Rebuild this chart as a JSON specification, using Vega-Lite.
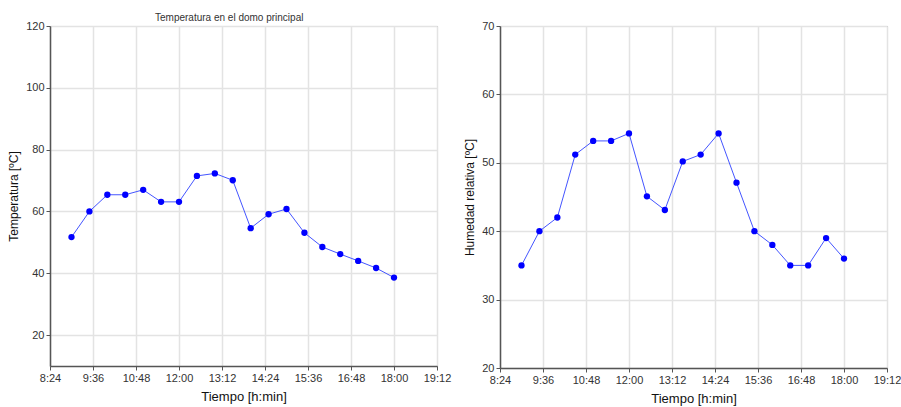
{
  "$schema": "https://vega.github.io/schema/vega-lite/v6.json",
  "padding": {"left": 7, "top": 12, "right": 0, "bottom": 0},
  "spacing": 11,
  "data": {"values": [
    {"hora": "2000-01-01T09:00:00", "temp": 51.7, "hum": 35.0},
    {"hora": "2000-01-01T09:30:00", "temp": 60.0, "hum": 40.0},
    {"hora": "2000-01-01T10:00:00", "temp": 65.4, "hum": 42.0},
    {"hora": "2000-01-01T10:30:00", "temp": 65.4, "hum": 51.2},
    {"hora": "2000-01-01T11:00:00", "temp": 67.0, "hum": 53.2},
    {"hora": "2000-01-01T11:30:00", "temp": 63.1, "hum": 53.2},
    {"hora": "2000-01-01T12:00:00", "temp": 63.1, "hum": 54.3},
    {"hora": "2000-01-01T12:30:00", "temp": 71.5, "hum": 45.1},
    {"hora": "2000-01-01T13:00:00", "temp": 72.3, "hum": 43.1},
    {"hora": "2000-01-01T13:30:00", "temp": 70.1, "hum": 50.2},
    {"hora": "2000-01-01T14:00:00", "temp": 54.6, "hum": 51.2},
    {"hora": "2000-01-01T14:30:00", "temp": 59.1, "hum": 54.3},
    {"hora": "2000-01-01T15:00:00", "temp": 60.8, "hum": 47.1},
    {"hora": "2000-01-01T15:30:00", "temp": 53.1, "hum": 40.0},
    {"hora": "2000-01-01T16:00:00", "temp": 48.5, "hum": 38.0},
    {"hora": "2000-01-01T16:30:00", "temp": 46.2, "hum": 35.0},
    {"hora": "2000-01-01T17:00:00", "temp": 44.0, "hum": 35.0},
    {"hora": "2000-01-01T17:30:00", "temp": 41.7, "hum": 39.0},
    {"hora": "2000-01-01T18:00:00", "temp": 38.6, "hum": 36.0}
  ]},
  "config": {
    "font": "Liberation Sans, sans-serif",
    "view": {"stroke": "#8c8c8c", "strokeWidth": 1},
    "axis": {
      "domainColor": "#555555", "domainWidth": 1.5,
      "tickColor": "#555555", "tickSize": 4,
      "labelFont": "Liberation Sans, sans-serif",
      "labelFontSize": 11, "labelColor": "#333333", "labelPadding": 2,
      "titleFont": "Liberation Sans, sans-serif",
      "titleFontSize": 12, "titleFontWeight": "normal", "titleColor": "#111111", "titlePadding": 5,
      "gridColor": "#e3e3e3", "gridWidth": 1.5
    },
    "axisX": {"titlePadding": 7, "titleFontSize": 13}
  },
  "hconcat": [
    {
      "title": {"text": "Temperatura en el domo principal", "fontSize": 10, "fontWeight": "normal", "color": "#333333", "anchor": "middle", "frame": "bounds", "offset": -3, "font": "Liberation Sans, sans-serif"},
      "width": 387,
      "height": 340,
      "encoding": {
        "x": {"field": "hora", "type": "temporal",
          "scale": {"domain": [{"year": 2000, "month": 1, "date": 1, "hours": 8, "minutes": 24}, {"year": 2000, "month": 1, "date": 1, "hours": 19, "minutes": 12}], "nice": false},
          "axis": {"title": "Tiempo [h:min]", "format": "%-H:%M", "labelFlush": false, "labelOverlap": false,
            "values": [
              {"year": 2000, "month": 1, "date": 1, "hours": 8, "minutes": 24},
              {"year": 2000, "month": 1, "date": 1, "hours": 9, "minutes": 36},
              {"year": 2000, "month": 1, "date": 1, "hours": 10, "minutes": 48},
              {"year": 2000, "month": 1, "date": 1, "hours": 12, "minutes": 0},
              {"year": 2000, "month": 1, "date": 1, "hours": 13, "minutes": 12},
              {"year": 2000, "month": 1, "date": 1, "hours": 14, "minutes": 24},
              {"year": 2000, "month": 1, "date": 1, "hours": 15, "minutes": 36},
              {"year": 2000, "month": 1, "date": 1, "hours": 16, "minutes": 48},
              {"year": 2000, "month": 1, "date": 1, "hours": 18, "minutes": 0},
              {"year": 2000, "month": 1, "date": 1, "hours": 19, "minutes": 12}
            ]}},
        "y": {"field": "temp", "type": "quantitative",
          "scale": {"domain": [10, 120], "nice": false, "zero": false},
          "axis": {"title": "Temperatura [ºC]", "values": [20, 40, 60, 80, 100, 120]}}
      },
      "layer": [
        {"mark": {"type": "line", "color": "#4455ff", "strokeWidth": 1}},
        {"mark": {"type": "point", "filled": true, "color": "#0000ff", "size": 40, "opacity": 1}}
      ]
    },
    {
      "width": 387,
      "height": 342,
      "encoding": {
        "x": {"field": "hora", "type": "temporal",
          "scale": {"domain": [{"year": 2000, "month": 1, "date": 1, "hours": 8, "minutes": 24}, {"year": 2000, "month": 1, "date": 1, "hours": 19, "minutes": 12}], "nice": false},
          "axis": {"title": "Tiempo [h:min]", "format": "%-H:%M", "labelFlush": false, "labelOverlap": false,
            "values": [
              {"year": 2000, "month": 1, "date": 1, "hours": 8, "minutes": 24},
              {"year": 2000, "month": 1, "date": 1, "hours": 9, "minutes": 36},
              {"year": 2000, "month": 1, "date": 1, "hours": 10, "minutes": 48},
              {"year": 2000, "month": 1, "date": 1, "hours": 12, "minutes": 0},
              {"year": 2000, "month": 1, "date": 1, "hours": 13, "minutes": 12},
              {"year": 2000, "month": 1, "date": 1, "hours": 14, "minutes": 24},
              {"year": 2000, "month": 1, "date": 1, "hours": 15, "minutes": 36},
              {"year": 2000, "month": 1, "date": 1, "hours": 16, "minutes": 48},
              {"year": 2000, "month": 1, "date": 1, "hours": 18, "minutes": 0},
              {"year": 2000, "month": 1, "date": 1, "hours": 19, "minutes": 12}
            ]}},
        "y": {"field": "hum", "type": "quantitative",
          "scale": {"domain": [20, 70], "nice": false, "zero": false},
          "axis": {"title": "Humedad relativa [ºC]", "values": [20, 30, 40, 50, 60, 70]}}
      },
      "layer": [
        {"mark": {"type": "line", "color": "#4455ff", "strokeWidth": 1}},
        {"mark": {"type": "point", "filled": true, "color": "#0000ff", "size": 40, "opacity": 1}}
      ]
    }
  ]
}
